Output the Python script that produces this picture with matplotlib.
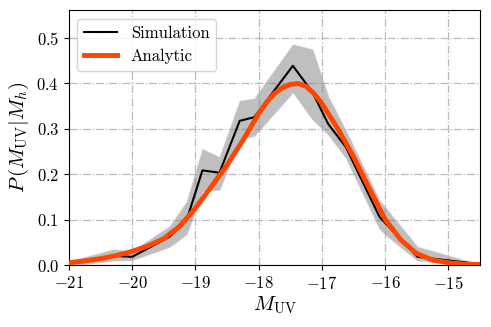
import matplotlib
matplotlib.use("Agg")
import matplotlib.pyplot as plt
import numpy as np

plt.rcParams["font.family"] = "serif"
plt.rcParams["font.serif"] = ["cmr10"]
plt.rcParams["mathtext.fontset"] = "cm"
plt.rcParams["axes.formatter.use_mathtext"] = True

# Simulation histogram (black) and its scatter band (gray)
sim_M = [-21.0, -20.65, -20.3, -20.0, -19.41, -19.14, -18.89, -18.62, -18.3, -18.07,
         -17.46, -17.15, -16.9, -16.62, -16.09, -15.99, -15.49, -14.63, -14.5]
sim_P = [0.004, 0.012, 0.02, 0.018, 0.062, 0.098, 0.208, 0.203, 0.317, 0.325,
         0.438, 0.38, 0.31, 0.259, 0.106, 0.091, 0.018, 0.004, 0.003]
sim_lo = [0.0, 0.004, 0.01, 0.011, 0.04, 0.068, 0.162, 0.166, 0.277, 0.284,
          0.38, 0.32, 0.287, 0.235, 0.08, 0.066, 0.01, 0.001, 0.0]
sim_hi = [0.008, 0.021, 0.034, 0.031, 0.085, 0.139, 0.255, 0.237, 0.361, 0.366,
          0.485, 0.474, 0.37, 0.295, 0.142, 0.125, 0.04, 0.006, 0.005]

# Analytic curve (orange)
ana_M = [-21.0, -20.75, -20.5, -20.25, -20.0, -19.75, -19.5, -19.25, -19.0, -18.75,
         -18.5, -18.25, -18.0, -17.875, -17.75, -17.625, -17.5, -17.375, -17.25, -17.125,
         -17.0, -16.75, -16.5, -16.25, -16.0, -15.75, -15.5, -15.25, -15.0, -14.75, -14.5]
ana_P = [0.005, 0.009, 0.014, 0.021, 0.030, 0.042, 0.058, 0.085, 0.125, 0.172,
         0.22, 0.274, 0.333, 0.358, 0.377, 0.390, 0.397, 0.399, 0.393, 0.377,
         0.355, 0.30, 0.238, 0.168, 0.10, 0.055, 0.025, 0.011, 0.005, 0.002, 0.001]

xticks = [-21, -20, -19, -18, -17, -16, -15]
yticks = [0.0, 0.1, 0.2, 0.3, 0.4, 0.5]

fig = plt.figure(figsize=(4.91, 3.27), dpi=100)
ax = fig.add_axes([0.1405, 0.1896, 0.8371, 0.7789])

ax.fill_between(sim_M, sim_lo, sim_hi, facecolor="gray", edgecolor="silver", alpha=0.5, lw=1, zorder=2)
ax.plot(sim_M, sim_P, color="black", lw=1.5, label="Simulation", zorder=3)
ax.plot(ana_M, ana_P, color="orangered", lw=3.5, label="Analytic", zorder=4,
        solid_joinstyle="round")

ax.set_xlim(-21, -14.5)
ax.set_ylim(0, 0.56)
ax.set_xticks(xticks)
ax.set_yticks(yticks)
ax.tick_params(labelsize=12)
ax.grid(True, linestyle="-.", color="#bbbbbb", lw=0.9, zorder=0)
ax.set_axisbelow(True)

ax.set_xlabel(r"$M_{\rm UV}$", fontsize=15, labelpad=2)
ax.set_ylabel(r"$P\,(M_{\rm UV}|M_h)$", fontsize=15)
ax.legend(loc="upper left", fontsize=12)

fig.savefig("out.png", dpi=100)
